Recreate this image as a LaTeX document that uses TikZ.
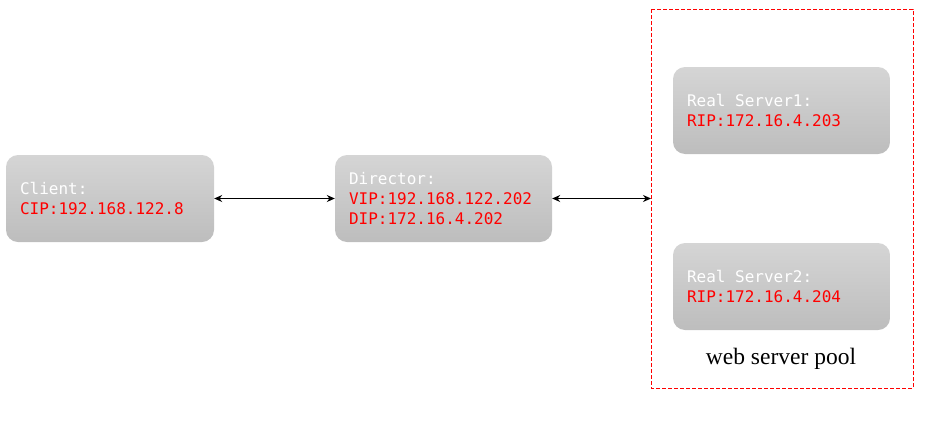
\documentclass[tikz,border=0pt]{standalone}
\usepackage{fontspec}
\setmonofont{DejaVu Sans Mono}
\newfontfamily\poolfont{Liberation Serif}
\usetikzlibrary{arrows.meta}
\definecolor{boxtop}{HTML}{D5D5D5}
\definecolor{boxbot}{HTML}{BDBDBD}
\definecolor{ipred}{HTML}{FF0000}
\newcommand{\msp}{\hspace*{0.602em}}
\tikzset{
  hostbox/.style={rounded corners=12pt, top color=boxtop, bottom color=boxbot, draw=none,
    minimum width=217pt, minimum height=87pt, text width=189pt, inner xsep=14pt, inner ysep=0pt,
    align=left, font=\ttfamily\fontsize{16}{20}\selectfont, text=white},
  link/.style={{Stealth[length=8pt,width=7pt]}-{Stealth[length=8pt,width=7pt]}, line width=0.9pt, black},
  poolframe/.style={draw=ipred, dash pattern=on 4pt off 2pt, line width=0.8pt},
}
\begin{document}
\begin{tikzpicture}[x=1pt,y=-1pt]
\useasboundingbox (0,0) rectangle (944,442);
\draw[poolframe] (651,9) rectangle (913,388);
\coordinate (poolw) at (651,198.5);
\node[hostbox, minimum width=208pt, text width=180pt] (client) at (110,198.5) {Client:\\\textcolor{ipred}{CIP:192.168.122.8}};
\node[hostbox] (director) at (443.5,198.5) {Director:\\\textcolor{ipred}{VIP:192.168.122.202}\\\textcolor{ipred}{DIP:172.16.4.202}};
\node[hostbox] (rs1) at (781.5,110.5) {Real\msp Server1:\\\textcolor{ipred}{RIP:172.16.4.203}};
\node[hostbox] (rs2) at (781.5,286.5) {Real\msp Server2:\\\textcolor{ipred}{RIP:172.16.4.204}};
\node[font=\poolfont\fontsize{23.5}{26}\selectfont, inner sep=0pt] (pool) at (781,359) {web server pool};
\draw[link] (client.east) -- (director.west);
\draw[link] (director.east) -- (poolw);
\end{tikzpicture}
\end{document}
